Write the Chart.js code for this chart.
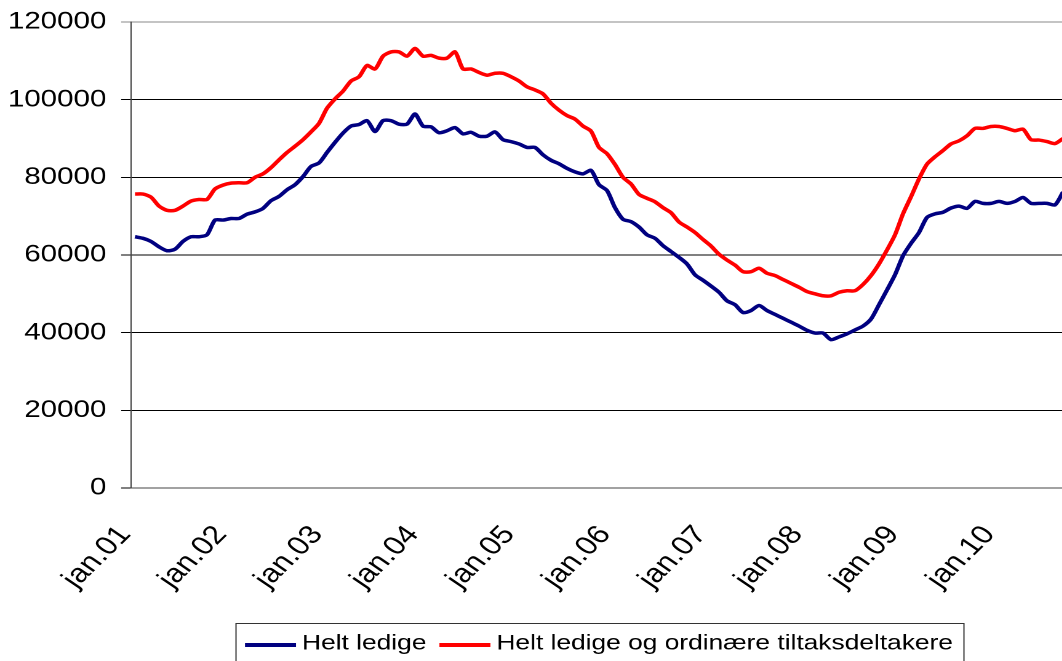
<!DOCTYPE html>
<html>
<head>
<meta charset="utf-8">
<script src="https://cdn.jsdelivr.net/npm/chart.js@4.4.1/dist/chart.umd.min.js"></script>
<style>
  html, body { margin: 0; padding: 0; background: #fff; overflow: hidden; width: 1062px; height: 661px; }
  canvas { display: block; }
</style>
</head>
<body>
<canvas id="ledigeChart" width="867" height="661" style="width:1067px;height:661px"></canvas>
<script>
// Kategorier: måneder fra jan.01
const monthNames = ['jan', 'feb', 'mar', 'apr', 'mai', 'jun', 'jul', 'aug', 'sep', 'okt', 'nov', 'des'];
const firstYear = 1;
const monthCount = 117;

// Helt ledige
const heltLedige = [
    64700, 64300, 63500, 62100, 61100, 61500, 63500, 64700, 64700, 65200, 69000, 69000,
    69400, 69400, 70500, 71100, 72000, 74000, 75100, 76800, 78100, 80200, 82800, 83700,
    86400, 89000, 91400, 93200, 93600, 94600, 91800, 94600, 94600, 93700, 93700, 96300,
    93200, 93000, 91500, 92000, 92800, 91200, 91600, 90600, 90600, 91700, 89700, 89200,
    88600, 87700, 87700, 85800, 84400, 83500, 82300, 81400, 80900, 81800, 78100, 76600,
    72200, 69200, 68600, 67200, 65200, 64300, 62400, 60900, 59400, 57700, 54900, 53500,
    52000, 50400, 48200, 47200, 45200, 45700, 47000, 45700, 44700, 43700, 42700, 41700,
    40600, 39900, 39900, 38200, 38900, 39700, 40700, 41700, 43500, 47200, 51000, 54900,
    59800, 63000, 65800, 69700, 70600, 71000, 72100, 72600, 72000, 73800, 73300, 73300,
    73800, 73300, 73800, 74800, 73300, 73300, 73300, 72900, 76200
];

// Helt ledige og ordinære tiltaksdeltakere
const medTiltak = [
    75700, 75700, 74900, 72600, 71500, 71500, 72600, 73900, 74300, 74300, 77000, 78000,
    78500, 78600, 78600, 80000, 80900, 82500, 84500, 86400, 88000, 89700, 91700, 93900,
    97800, 100200, 102200, 104800, 105900, 108800, 107900, 111200, 112300, 112300, 111200, 113200,
    111200, 111400, 110700, 110700, 112300, 107900, 107900, 107000, 106300, 106800, 106800, 105900,
    104800, 103300, 102500, 101500, 99100, 97300, 95900, 95000, 93200, 91900, 87700, 86100,
    83300, 80000, 78300, 75600, 74600, 73700, 72200, 70900, 68500, 67200, 65800, 64000,
    62300, 60200, 58700, 57400, 55700, 55700, 56600, 55300, 54700, 53700, 52700, 51700,
    50600, 50000, 49500, 49500, 50400, 50800, 50800, 52400, 54700, 57700, 61300, 65200,
    70600, 75000, 79600, 83400, 85300, 86900, 88600, 89400, 90700, 92600, 92600, 93100,
    93100, 92600, 92000, 92400, 89700, 89600, 89200, 88700, 90000
];

const yTicks = [0, 20000, 40000, 60000, 80000, 100000, 120000];

const labels = [];
for (let i = 0; i < monthCount; i++) {
    const yr = firstYear + Math.floor(i / 12);
    labels.push(monthNames[i % 12] + '.' + (yr < 10 ? '0' + yr : String(yr)));
}

// lerretet er strukket horisontalt (som i originalbildet)
const STRETCH = 1067 / 867;
const FONT = '"Liberation Sans", Arial, sans-serif';

// legende med ramme under diagrammet
const boxLegend = {
    id: 'boxLegend',
    afterDraw(chart) {
        const ctx = chart.ctx;
        const sets = chart.data.datasets;
        ctx.save();
        ctx.font = '21.4px ' + FONT;
        ctx.textBaseline = 'alphabetic';
        const left = 236 / STRETCH;
        const top = 623.5;
        let x = left + 9 / STRETCH;
        const lineLen = 51 / STRETCH;
        const items = [];
        sets.forEach(ds => {
            const w = ctx.measureText(ds.label).width;
            items.push({ds, x, w});
            x += lineLen + 6 / STRETCH + w + 13 / STRETCH;
        });
        const right = x - 13 / STRETCH + 11 / STRETCH;
        ctx.fillStyle = '#fff';
        ctx.fillRect(left, top, right - left, 60);
        ctx.strokeStyle = '#333';
        ctx.lineWidth = 1;
        ctx.strokeRect(left, top, right - left, 60);
        items.forEach(it => {
            ctx.strokeStyle = it.ds.borderColor;
            ctx.lineWidth = 4;
            ctx.beginPath();
            ctx.moveTo(it.x, 645);
            ctx.lineTo(it.x + lineLen, 645);
            ctx.stroke();
            ctx.fillStyle = '#000';
            ctx.fillText(it.ds.label, it.x + lineLen + 6 / STRETCH, 649.5);
        });
        ctx.restore();
    }
};

new Chart(document.getElementById('ledigeChart'), {
    type: 'line',
    data: {
        labels: labels,
        datasets: [
            {
                label: 'Helt ledige',
                data: heltLedige,
                borderColor: '#000080',
                backgroundColor: '#000080',
                borderWidth: 3.5,
                pointRadius: 0,
                tension: 0.25
            },
            {
                label: 'Helt ledige og ordinære tiltaksdeltakere',
                data: medTiltak,
                borderColor: '#ff0000',
                backgroundColor: '#ff0000',
                borderWidth: 3.5,
                pointRadius: 0,
                tension: 0.25
            }
        ]
    },
    options: {
        responsive: false,
        devicePixelRatio: 2,
        animation: false,
        layout: { padding: { top: 22, left: 0, right: 0, bottom: 0 } },
        plugins: {
            legend: { display: false },
            tooltip: { enabled: false }
        },
        scales: {
            x: {
                type: 'category',
                offset: true,
                grid: {
                    offset: true,
                    drawOnChartArea: false,
                    drawTicks: true,
                    tickLength: 9,
                    color: c => (c.index % 12 === 0 ? '#333' : 'rgba(0,0,0,0)')
                },
                border: { color: '#444', width: 1 },
                ticks: {
                    autoSkip: false,
                    maxRotation: 50,
                    minRotation: 50,
                    padding: 23,
                    labelOffset: -8,
                    color: '#000',
                    font: { family: FONT, size: 26 },
                    callback: (v, i) => (i % 12 === 0 ? labels[i] : null)
                },
                afterFit: s => { s.height = 661 - 488; s.paddingLeft = 0; s.paddingRight = 0; }
            },
            y: {
                min: 0,
                max: 120000,
                afterBuildTicks: s => { s.ticks = yTicks.map(v => ({value: v})); },
                grid: {
                    color: c => (c.tick && c.tick.value === 120000 ? '#888' : '#000'),
                    lineWidth: 1,
                    drawTicks: true,
                    tickLength: 8
                },
                border: { color: '#444', width: 1 },
                ticks: {
                    padding: 12,
                    color: '#000',
                    font: { family: FONT, size: 24 },
                    callback: v => String(v)
                },
                afterFit: s => { s.width = 131 / STRETCH; s.paddingTop = 0; s.paddingBottom = 0; }
            }
        }
    },
    plugins: [boxLegend]
});
</script>
</body>
</html>
